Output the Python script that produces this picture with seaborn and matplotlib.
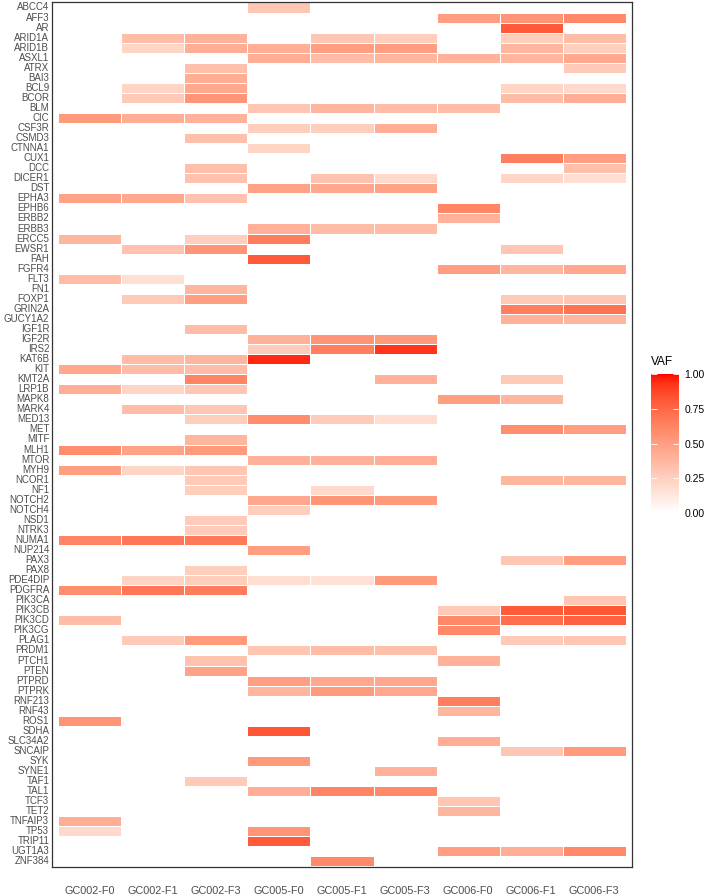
import numpy as np
import pandas as pd
import matplotlib
matplotlib.use("Agg")
import matplotlib.pyplot as plt
import seaborn as sns
from matplotlib.colors import ListedColormap

samples = ["GC002-F0", "GC002-F1", "GC002-F3", "GC005-F0", "GC005-F1",
           "GC005-F3", "GC006-F0", "GC006-F1", "GC006-F3"]

genes = ["ABCC4", "AFF3", "AR", "ARID1A", "ARID1B", "ASXL1", "ATRX", "BAI3", "BCL9", "BCOR",
         "BLM", "CIC", "CSF3R", "CSMD3", "CTNNA1", "CUX1", "DCC", "DICER1", "DST", "EPHA3",
         "EPHB6", "ERBB2", "ERBB3", "ERCC5", "EWSR1", "FAH", "FGFR4", "FLT3", "FN1", "FOXP1",
         "GRIN2A", "GUCY1A2", "IGF1R", "IGF2R", "IRS2", "KAT6B", "KIT", "KMT2A", "LRP1B", "MAPK8",
         "MARK4", "MED13", "MET", "MITF", "MLH1", "MTOR", "MYH9", "NCOR1", "NF1", "NOTCH2",
         "NOTCH4", "NSD1", "NTRK3", "NUMA1", "NUP214", "PAX3", "PAX8", "PDE4DIP", "PDGFRA", "PIK3CA",
         "PIK3CB", "PIK3CD", "PIK3CG", "PLAG1", "PRDM1", "PTCH1", "PTEN", "PTPRD", "PTPRK", "RNF213",
         "RNF43", "ROS1", "SDHA", "SLC34A2", "SNCAIP", "SYK", "SYNE1", "TAF1", "TAL1", "TCF3",
         "TET2", "TNFAIP3", "TP53", "TRIP11", "UGT1A3", "ZNF384"]

_ = np.nan
# one row per gene, one column per sample (NaN = no mutation)
vaf = [
    [_, _, _, .30, _, _, _, _, _],              # ABCC4
    [_, _, _, _, _, _, .50, .55, .60],          # AFF3
    [_, _, _, _, _, _, _, .80, _],              # AR
    [_, .35, .40, _, .30, .25, _, .25, .35],    # ARID1A
    [_, .22, .42, .42, .50, .50, _, .38, .25],  # ARID1B
    [_, _, _, .42, .35, .38, .40, .38, .45],    # ASXL1
    [_, _, .33, _, _, _, _, _, .28],            # ATRX
    [_, _, .42, _, _, _, _, _, _],              # BAI3
    [_, .22, .45, _, _, _, _, .22, .20],        # BCL9
    [_, .28, .55, _, _, _, _, .35, .42],        # BCOR
    [_, _, _, .30, .38, .35, .35, _, _],        # BLM
    [.52, .42, .40, _, _, _, _, _, _],          # CIC
    [_, _, _, .25, .25, .42, _, _, _],          # CSF3R
    [_, _, .33, _, _, _, _, _, _],              # CSMD3
    [_, _, _, .22, _, _, _, _, _],              # CTNNA1
    [_, _, _, _, _, _, _, .65, .50],            # CUX1
    [_, _, .33, _, _, _, _, _, .33],            # DCC
    [_, _, .32, _, .32, .20, _, .22, .17],      # DICER1
    [_, _, _, .48, .45, .48, _, _, _],          # DST
    [.48, .45, .32, _, _, _, _, _, _],          # EPHA3
    [_, _, _, _, _, _, .62, _, _],              # EPHB6
    [_, _, _, _, _, _, .40, _, _],              # ERBB2
    [_, _, _, .40, .35, .35, _, _, _],          # ERBB3
    [.38, _, .25, .65, _, _, _, _, _],          # ERCC5
    [_, .32, .55, _, _, _, _, .30, _],          # EWSR1
    [_, _, _, .80, _, _, _, _, _],              # FAH
    [_, _, _, _, _, _, .50, .38, .45],          # FGFR4
    [.35, .17, _, _, _, _, _, _, _],            # FLT3
    [_, _, .38, _, _, _, _, _, _],              # FN1
    [_, .28, .50, _, _, _, _, .28, .30],        # FOXP1
    [_, _, _, _, _, _, _, .65, .70],            # GRIN2A
    [_, _, _, _, _, _, _, .40, .38],            # GUCY1A2
    [_, _, .35, _, _, _, _, _, _],              # IGF1R
    [_, _, _, .40, .55, .52, _, _, _],          # IGF2R
    [_, _, _, .27, .65, .92, _, _, _],          # IRS2
    [_, .35, .38, .95, _, _, _, _, _],          # KAT6B
    [.45, .35, .35, _, _, _, _, _, _],          # KIT
    [_, _, .62, _, _, .40, _, .28, _],          # KMT2A
    [.42, .22, .30, _, _, _, _, _, _],          # LRP1B
    [_, _, _, _, _, _, .50, .38, _],            # MAPK8
    [_, .35, .30, _, _, _, _, _, _],            # MARK4
    [_, _, .25, .58, .27, .18, _, _, _],        # MED13
    [_, _, _, _, _, _, _, .58, .50],            # MET
    [_, _, .38, _, _, _, _, _, _],              # MITF
    [.58, .48, .52, _, _, _, _, _, _],          # MLH1
    [_, _, _, .40, .40, .42, _, _, _],          # MTOR
    [.50, .22, .30, _, _, _, _, _, _],          # MYH9
    [_, _, .28, _, _, _, _, .38, .38],          # NCOR1
    [_, _, .25, _, .20, _, _, _, _],            # NF1
    [_, _, _, .45, .55, .52, _, _, _],          # NOTCH2
    [_, _, _, .25, _, _, _, _, _],              # NOTCH4
    [_, _, .27, _, _, _, _, _, _],              # NSD1
    [_, _, .27, _, _, _, _, _, _],              # NTRK3
    [.62, .68, .67, _, _, _, _, _, _],          # NUMA1
    [_, _, _, .50, _, _, _, _, _],              # NUP214
    [_, _, _, _, _, _, _, .30, .50],            # PAX3
    [_, _, .25, _, _, _, _, _, _],              # PAX8
    [_, .23, .25, .18, .16, .52, _, _, _],      # PDE4DIP
    [.58, .68, .66, _, _, _, _, _, _],          # PDGFRA
    [_, _, _, _, _, _, _, _, .30],              # PIK3CA
    [_, _, _, _, _, _, .28, .80, .82],          # PIK3CB
    [.35, _, _, _, _, _, .60, .72, .78],        # PIK3CD
    [_, _, _, _, _, _, .60, _, _],              # PIK3CG
    [_, .28, .52, _, _, _, _, .28, .30],        # PLAG1
    [_, _, _, .30, .35, .33, _, _, _],          # PRDM1
    [_, _, .32, _, _, _, .40, _, _],            # PTCH1
    [_, _, .48, _, _, _, _, _, _],              # PTEN
    [_, _, _, .50, .45, .45, _, _, _],          # PTPRD
    [_, _, _, .38, .52, .45, _, _, _],          # PTPRK
    [_, _, _, _, _, _, .65, _, _],              # RNF213
    [_, _, _, _, _, _, .38, _, _],              # RNF43
    [.55, _, _, _, _, _, _, _, _],              # ROS1
    [_, _, _, .82, _, _, _, _, _],              # SDHA
    [_, _, _, _, _, _, .42, _, _],              # SLC34A2
    [_, _, _, _, _, _, _, .30, .52],            # SNCAIP
    [_, _, _, .52, _, _, _, _, _],              # SYK
    [_, _, _, _, _, .40, _, _, _],              # SYNE1
    [_, _, .28, _, _, _, _, _, _],              # TAF1
    [_, _, _, .42, .62, .60, _, _, _],          # TAL1
    [_, _, _, _, _, _, .30, _, _],              # TCF3
    [_, _, _, _, _, _, .38, _, _],              # TET2
    [.42, _, _, _, _, _, _, _, _],              # TNFAIP3
    [.20, _, _, .55, _, _, _, _, _],            # TP53
    [_, _, _, .80, _, _, _, _, _],              # TRIP11
    [_, _, _, _, _, _, .50, .42, .60],          # UGT1A3
    [_, _, _, _, .60, _, _, _, _],              # ZNF384
]


def lab_gradient(n=256):
    # white -> red interpolated in CIELAB, like ggplot's scale_fill_gradient
    def to_lab(rgb):
        c = np.where(rgb > 0.04045, ((rgb + 0.055) / 1.055) ** 2.4, rgb / 12.92)
        m = np.array([[0.4124, 0.3576, 0.1805], [0.2126, 0.7152, 0.0722], [0.0193, 0.1192, 0.9505]])
        xyz = m @ c / np.array([0.95047, 1.0, 1.08883])
        f = np.where(xyz > 0.008856, np.cbrt(xyz), 7.787 * xyz + 16 / 116)
        return np.array([116 * f[1] - 16, 500 * (f[0] - f[1]), 200 * (f[1] - f[2])])

    def to_rgb(lab):
        fy = (lab[0] + 16) / 116
        fx = fy + lab[1] / 500
        fz = fy - lab[2] / 200
        f = np.array([fx, fy, fz])
        xyz = np.where(f ** 3 > 0.008856, f ** 3, (f - 16 / 116) / 7.787) * np.array([0.95047, 1.0, 1.08883])
        minv = np.array([[3.2406, -1.5372, -0.4986], [-0.9689, 1.8758, 0.0415], [0.0557, -0.2040, 1.0570]])
        c = minv @ xyz
        c = np.where(c > 0.0031308, 1.055 * np.clip(c, 0, None) ** (1 / 2.4) - 0.055, 12.92 * c)
        return np.clip(c, 0, 1)

    lo, hi = to_lab(np.array([1.0, 1.0, 1.0])), to_lab(np.array([1.0, 0.0, 0.0]))
    return ListedColormap([to_rgb(lo + t * (hi - lo)) for t in np.linspace(0, 1, n)])


def main():
    df = pd.DataFrame(vaf, index=genes, columns=samples)

    plt.rcParams["font.family"] = ["Liberation Sans", "DejaVu Sans"]
    fig = plt.figure(figsize=(7.08, 8.96), dpi=100)
    ax = fig.add_axes([0.0734, 0.0324, 0.8193, 0.9654])
    cax = fig.add_axes([0.919, 0.4275, 0.040, 0.155])

    sns.heatmap(df, ax=ax, cbar_ax=cax, cmap=lab_gradient(), vmin=0, vmax=1,
                linewidths=0.5, linecolor="white", xticklabels=True, yticklabels=True,
                cbar_kws={"ticks": [0, 0.25, 0.5, 0.75, 1.0]})

    ax.set_xlim(-0.1, len(samples) + 0.1)
    ax.set_ylim(len(genes) + 0.05, -0.05)
    ax.set_xlabel("")
    ax.set_ylabel("")
    ax.tick_params(axis="both", length=0, colors="#4d4d4d")
    ax.tick_params(axis="y", labelsize=7, pad=2)
    ax.tick_params(axis="x", labelsize=7.8, pad=13.5, labelrotation=0)
    for sp in ax.spines.values():
        sp.set_visible(True)
        sp.set_color("#333333")
        sp.set_linewidth(0.9)

    cax.set_yticklabels(["0.00", "0.25", "0.50", "0.75", "1.00"])
    cax.tick_params(left=True, right=True, labelleft=False, labelright=True,
                    direction="in", color="white", length=4, width=0.6,
                    labelsize=7.5, labelcolor="black", pad=4)
    for sp in cax.spines.values():
        sp.set_visible(False)
    fig.text(0.919, 0.589, "VAF", fontsize=8.6, ha="left", va="bottom")

    fig.savefig("out.png", dpi=100)


if __name__ == "__main__":
    main()
